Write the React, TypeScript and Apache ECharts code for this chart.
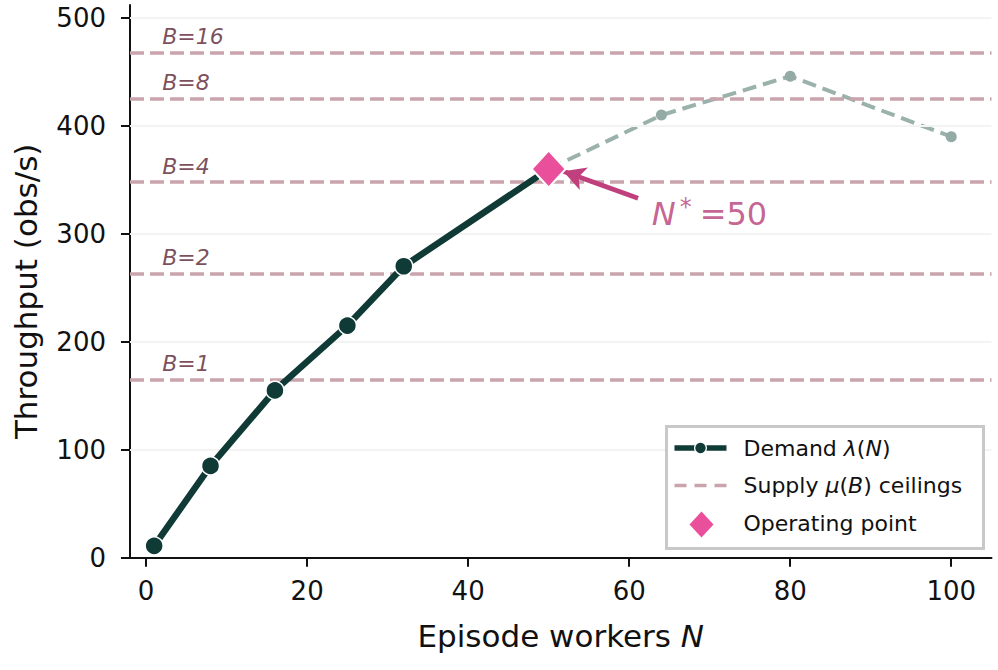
import React, { useEffect, useRef } from 'react';
import * as echarts from 'echarts';

// ---- data ----
const workers = [1, 8, 16, 25, 32, 50, 64, 80, 100];
const demand = [11, 85, 155, 215, 270, 360, 410, 446, 390];
const operatingN = 50;
const operatingValue = 360;
const batchSizes = ['1', '2', '4', '8', '16'];
const ceilings = [165, 263, 348, 425, 468];
const xTicks = [0, 20, 40, 60, 80, 100];
const yTicks = [0, 100, 200, 300, 400, 500];
const xRange = [-2, 105];
const yRange = [0, 512];
const ceilingLabelN = 2;
const arrowFrom = [61.1, 333];
const arrowTo = [51.8, 358];
const annotationAt = [62.8, 318];

const FONT = 'DejaVu Sans';
const DARK = '#0f3a36';
const FADED = '#9bb1ac';
const ROSE = '#c9a4ac';
const PINK = '#ea4f9b';
const ARROW = '#c0407d';
const MAROON = '#5a1f30';
const ANNOT = '#b53c78';
const LEGEND_Z = 100;

function legendText(x: number, y: number, text: string, italic = false) {
  return {
    type: 'text',
    x,
    y,
    z: LEGEND_Z,
    z2: 3,
    silent: true,
    style: {
      text,
      fontFamily: FONT,
      fontSize: 22,
      fontStyle: italic ? 'italic' : 'normal',
      fill: '#111',
      verticalAlign: 'middle',
      align: 'left',
    },
  };
}

function legendShape(type: string, shape: any, style: any, z2 = 2) {
  return { type, shape, style, z: LEGEND_Z, z2, silent: true };
}

export default function App() {
  const ref = useRef<HTMLDivElement>(null);

  useEffect(() => {
    if (!ref.current) return;
    const chart = echarts.init(ref.current, undefined, { renderer: 'svg' });

    const points = workers.map((n, i) => ({ n, v: demand[i] }));
    const solidData = points
      .filter((d) => d.n <= operatingN)
      .map((d) => ({ value: [d.n, d.v], symbol: d.n === operatingN ? 'none' : 'circle' }));
    const dashedData = points
      .filter((d) => d.n >= operatingN)
      .map((d) => ({ value: [d.n, d.v], symbol: d.n === operatingN ? 'none' : 'circle' }));

    const option: any = {
      animation: false,
      backgroundColor: '#ffffff',
      textStyle: { fontFamily: FONT },
      grid: { left: 130, right: 6.5, top: 5, bottom: 112.3, containLabel: false },
      xAxis: {
        type: 'value',
        min: xRange[0],
        max: xRange[1],
        name: '{a|Episode workers }{b|N}',
        nameLocation: 'middle',
        nameGap: 63,
        nameTextStyle: {
          rich: {
            a: { fontFamily: FONT, fontSize: 31, color: '#111' },
            b: { fontFamily: FONT, fontSize: 31, color: '#111', fontStyle: 'italic' },
          },
        },
        axisLine: { show: true, onZero: false, lineStyle: { color: '#111', width: 2 } },
        axisTick: { show: true, length: 9, lineStyle: { color: '#111', width: 2 }, customValues: xTicks },
        axisLabel: { fontFamily: FONT, fontSize: 26, color: '#111', margin: 20, customValues: xTicks },
        splitLine: { show: false },
      },
      yAxis: {
        type: 'value',
        min: yRange[0],
        max: yRange[1],
        name: 'Throughput (obs/s)',
        nameLocation: 'middle',
        nameGap: 89,
        nameTextStyle: { fontFamily: FONT, fontSize: 31, color: '#111', padding: [0, 20, 0, 0] },
        axisLine: { show: true, onZero: false, lineStyle: { color: '#111', width: 2 } },
        axisTick: { show: true, length: 9, lineStyle: { color: '#111', width: 2 }, customValues: yTicks },
        axisLabel: { fontFamily: FONT, fontSize: 26, color: '#111', margin: 24, customValues: yTicks },
        splitLine: { show: false },
      },
      series: [
        {
          name: 'grid',
          type: 'line',
          data: [],
          silent: true,
          z: 1,
          markLine: {
            silent: true,
            symbol: ['none', 'none'],
            label: { show: false },
            lineStyle: { color: '#f3f3f3', width: 2, type: 'solid' },
            data: yTicks.filter((v) => v > 0).map((v) => ({ yAxis: v })),
          },
        },
        {
          name: 'Supply ceilings',
          type: 'line',
          data: [],
          silent: true,
          z: 2,
          lineStyle: { color: ROSE, width: 3.5, type: [14, 6] },
          markLine: {
            silent: true,
            symbol: ['none', 'none'],
            label: { show: false },
            emphasis: { disabled: true },
            lineStyle: { color: ROSE, width: 3.5, type: [14, 6] },
            data: ceilings.map((v) => ({ yAxis: v })),
          },
        },
        {
          name: 'ceilingLabels',
          type: 'scatter',
          silent: true,
          symbolSize: 0,
          z: 3,
          data: ceilings.map((v, i) => ({ value: [ceilingLabelN, v], name: 'B=' + batchSizes[i] })),
          label: {
            show: true,
            position: 'right',
            distance: 0,
            offset: [0, -16],
            formatter: '{b}',
            fontFamily: FONT,
            fontSize: 22,
            fontStyle: 'italic',
            color: MAROON,
          },
        },
        {
          name: 'demandExtension',
          type: 'line',
          silent: true,
          z: 4,
          data: dashedData,
          symbolSize: 11,
          lineStyle: { color: FADED, width: 4, type: [14, 7] },
          itemStyle: { color: '#93aaa5' },
        },
        {
          name: 'Demand',
          type: 'line',
          silent: true,
          z: 5,
          data: solidData,
          symbolSize: 18,
          lineStyle: { color: DARK, width: 6.5 },
          itemStyle: { color: DARK, borderColor: '#ffffff', borderWidth: 1.5 },
        },
        {
          name: 'Operating point',
          type: 'scatter',
          silent: true,
          z: 6,
          symbol: 'diamond',
          symbolSize: [34, 37],
          itemStyle: { color: PINK, borderColor: '#ffffff', borderWidth: 2, opacity: 1 },
          data: [[operatingN, operatingValue]],
          markLine: {
            silent: true,
            symbol: ['none', 'arrow'],
            symbolSize: [18, 22],
            label: { show: false },
            emphasis: { disabled: true },
            lineStyle: { color: ARROW, width: 5, type: 'solid' },
            data: [[{ coord: arrowFrom }, { coord: arrowTo }]],
          },
        },
        {
          name: 'annotation',
          type: 'scatter',
          silent: true,
          symbolSize: 0,
          z: 7,
          data: [{ value: annotationAt, name: 'N*=' + operatingN }],
          label: {
            show: true,
            position: 'right',
            distance: 0,
            formatter: '{n|N}{s|*}{t|=' + operatingN + '}',
            rich: {
              n: { fontFamily: FONT, fontSize: 32, fontStyle: 'italic', color: ANNOT },
              s: { fontFamily: FONT, fontSize: 24, color: ANNOT, verticalAlign: 'top', padding: [0, 8, 14, 4] },
              t: { fontFamily: FONT, fontSize: 32, color: ANNOT },
            },
          },
        },
      ],
      graphic: [
        {
          type: 'group',
          left: 665,
          top: 425,
          z: LEGEND_Z,
          silent: true,
          children: [
            legendShape('rect', { x: 0, y: 0, width: 317, height: 122 }, { fill: '#ffffff', stroke: '#c8c8c8', lineWidth: 3 }, 1),
            legendShape('rect', { x: 8, y: 18.75, width: 52, height: 5.5 }, { fill: DARK }),
            legendShape('circle', { cx: 34, cy: 21.5, r: 6.5 }, { fill: '#ffffff' }, 3),
            legendShape('circle', { cx: 34, cy: 21.5, r: 5.2 }, { fill: DARK }, 4),
            legendText(77, 21.5, 'Demand'),
            legendText(177.3, 21.5, 'λ', true),
            legendText(190.3, 21.5, '('),
            legendText(198.9, 21.5, 'N', true),
            legendText(215.4, 21.5, ')'),
            legendShape('rect', { x: 8, y: 57.25, width: 12, height: 3.5 }, { fill: ROSE }),
            legendShape('rect', { x: 28, y: 57.25, width: 12, height: 3.5 }, { fill: ROSE }),
            legendShape('rect', { x: 48, y: 57.25, width: 12, height: 3.5 }, { fill: ROSE }),
            legendText(77, 59, 'Supply'),
            legendText(159, 59, 'μ', true),
            legendText(173, 59, '('),
            legendText(181.6, 59, 'B', true),
            legendText(196.7, 59, ') ceilings'),
            legendShape('polygon', { points: [[35, 85], [47, 98], [35, 111], [23, 98]] }, { fill: PINK }),
            legendText(77, 97, 'Operating point'),
          ],
        },
      ],
    };

    chart.setOption(option);
    return () => chart.dispose();
  }, []);

  return (
    <div
      ref={ref}
      style={{ position: 'fixed', left: 0, top: 0, width: 998, height: 670, background: '#fff' }}
    />
  );
}
